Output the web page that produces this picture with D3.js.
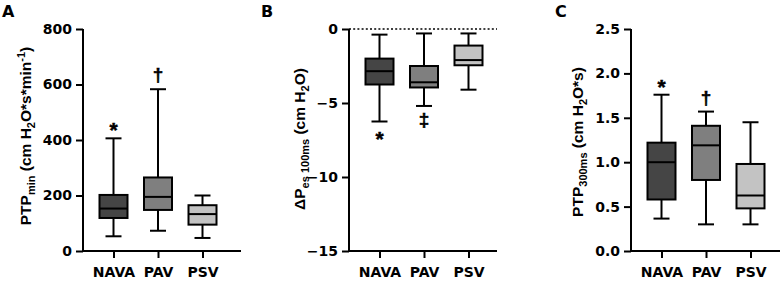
<!DOCTYPE html>
<html>
<head>
<meta charset="utf-8">
<script src="https://cdn.jsdelivr.net/npm/d3@7"></script>
<style>
  body { margin: 0; background: #fff; }
  text { font-family: "DejaVu Sans", sans-serif; font-weight: bold; fill: #000; }
  text.ylab, text.mark { font-family: "Liberation Sans", Arial, sans-serif; }
</style>
</head>
<body>
<svg id="chart"></svg>
<script>
const groups = ["NAVA", "PAV", "PSV"];
const boxFills = ["#454545", "#7f7f7f", "#c3c3c3"];

// box summaries per group: [min, q1, median, q3, max]
const ptpMin = [[53, 119, 153, 202, 406], [73, 148, 195, 265, 583], [47, 95, 133, 165, 200]];
const dPes100 = [[-6.25, -3.75, -2.85, -2.0, -0.38], [-5.2, -3.95, -3.6, -2.5, -0.3], [-4.1, -2.45, -2.1, -1.12, -0.3]];
const ptp300 = [[0.365, 0.58, 1.0, 1.22, 1.76], [0.30, 0.80, 1.19, 1.41, 1.57], [0.30, 0.48, 0.625, 0.98, 1.45]];

const ticksA = [0, 200, 400, 600, 800];
const ticksB = [-15, -10, -5, 0];
const ticksC = [0, 0.5, 1.0, 1.5, 2.0, 2.5];

const marksA = ["*", "†", ""];
const marksB = ["*", "‡", ""];
const marksC = ["*", "†", ""];

const width = 781, height = 282;
const svg = d3.select("#chart").attr("width", width).attr("height", height);

const plotTop = 29, plotBottom = 251;

function drawPanel(p) {
  const g = svg.append("g");

  const y = d3.scaleLinear().domain(p.domain).range([plotBottom, plotTop]);
  const x = d3.scalePoint().domain(groups)
    .range([p.x0 + 30.5, p.x0 + 30.5 + 89]);

  // zero reference line
  if (p.zeroLine) {
    g.append("line")
      .attr("x1", p.x0).attr("x2", p.x1)
      .attr("y1", y(0)).attr("y2", y(0))
      .attr("stroke", "#000").attr("stroke-width", 1.6)
      .attr("stroke-dasharray", "2,2.2");
  }

  // y axis
  const yAxis = g.append("g")
    .attr("transform", `translate(${p.x0},0)`)
    .call(d3.axisLeft(y).tickValues(p.ticks).tickSize(7).tickPadding(4).tickFormat(p.fmt));
  yAxis.attr("font-family", null).attr("font-size", null);
  yAxis.select(".domain").attr("stroke-width", 2).attr("d", `M0,${plotTop}V${plotBottom}`);
  yAxis.selectAll(".tick line").attr("stroke-width", 2);
  yAxis.selectAll(".tick text").attr("font-size", 14);

  // x axis
  const xAxis = g.append("g")
    .attr("transform", `translate(0,${plotBottom})`)
    .call(d3.axisBottom(x).tickSize(7).tickPadding(9));
  xAxis.attr("font-family", null).attr("font-size", null);
  xAxis.select(".domain").attr("stroke-width", 2).attr("d", `M${p.x0 - 1},0H${p.x1}`);
  xAxis.selectAll(".tick line").attr("stroke-width", 2);
  xAxis.selectAll(".tick text").attr("font-size", 14);

  const boxW = 28, capW = 16;
  const boxes = g.selectAll(".box").data(p.data).enter().append("g")
    .attr("transform", (d, i) => `translate(${x(groups[i])},0)`);

  boxes.append("line")
    .attr("x1", 0).attr("x2", 0)
    .attr("y1", d => y(d[0])).attr("y2", d => y(d[4]))
    .attr("stroke", "#000").attr("stroke-width", 2);
  boxes.append("line")
    .attr("x1", -capW / 2).attr("x2", capW / 2)
    .attr("y1", d => y(d[0])).attr("y2", d => y(d[0]))
    .attr("stroke", "#000").attr("stroke-width", 2);
  boxes.append("line")
    .attr("x1", -capW / 2).attr("x2", capW / 2)
    .attr("y1", d => y(d[4])).attr("y2", d => y(d[4]))
    .attr("stroke", "#000").attr("stroke-width", 2);
  boxes.append("rect")
    .attr("x", -boxW / 2).attr("width", boxW)
    .attr("y", d => y(d[3])).attr("height", d => y(d[1]) - y(d[3]))
    .attr("fill", (d, i) => boxFills[i])
    .attr("stroke", "#000").attr("stroke-width", 2);
  boxes.append("line")
    .attr("x1", -boxW / 2).attr("x2", boxW / 2)
    .attr("y1", d => y(d[2])).attr("y2", d => y(d[2]))
    .attr("stroke", "#000").attr("stroke-width", 2);

  // significance marks
  boxes.append("text")
    .attr("class", "mark")
    .attr("text-anchor", "middle")
    .attr("font-size", (d, i) => p.marks[i] === "*" ? 21 : 19)
    .attr("stroke", "#000").attr("stroke-width", 0.5)
    .attr("y", (d, i) => {
      const m = p.marks[i];
      if (p.below) return y(d[0]) + (m === "*" ? 24 : 20);
      return y(d[4]) - (m === "*" ? 1 : 8);
    })
    .text((d, i) => p.marks[i]);

  // y label
  const lab = g.append("text")
    .attr("class", "ylab")
    .attr("transform", `translate(${p.labelX},${p.labelY}) rotate(-90)`)
    .attr("text-anchor", "middle")
    .attr("font-size", 15.5);
  let shift = 0;
  p.label.forEach(([t, kind]) => {
    const target = kind === "sub" ? 4 : kind === "sup" ? -6 : 0;
    lab.append("tspan")
      .attr("dy", target - shift)
      .attr("font-size", kind ? 11 : 15.5)
      .text(t);
    shift = target;
  });

  // panel letter
  svg.append("text")
    .attr("x", p.letterX).attr("y", 17)
    .attr("font-size", 16)
    .text(p.letter);
}

drawPanel({
  letter: "A", letterX: 2, x0: 83, x1: 241, labelX: 31, labelY: 136,
  domain: [0, 800], ticks: ticksA, fmt: d3.format("d"),
  data: ptpMin, marks: marksA, below: false,
  label: [["PTP"], ["min", "sub"], [" (cm H"], ["2", "sub"], ["O*s*min"], ["-1", "sup"], [")"]]
});

drawPanel({
  letter: "B", letterX: 261, x0: 349, x1: 497, labelX: 305, labelY: 139,
  domain: [-15, 0], ticks: ticksB, fmt: d3.format("d"),
  data: dPes100, marks: marksB, below: true, zeroLine: true,
  label: [["ΔP"], ["es 100ms", "sub"], [" (cm H"], ["2", "sub"], ["O)"]]
});

drawPanel({
  letter: "C", letterX: 555, x0: 631, x1: 780, labelX: 583, labelY: 142,
  domain: [0, 2.5], ticks: ticksC, fmt: d3.format(".1f"),
  data: ptp300, marks: marksC, below: false,
  label: [["PTP"], ["300ms", "sub"], [" (cm H"], ["2", "sub"], ["O*s)"]]
});
</script>
</body>
</html>
